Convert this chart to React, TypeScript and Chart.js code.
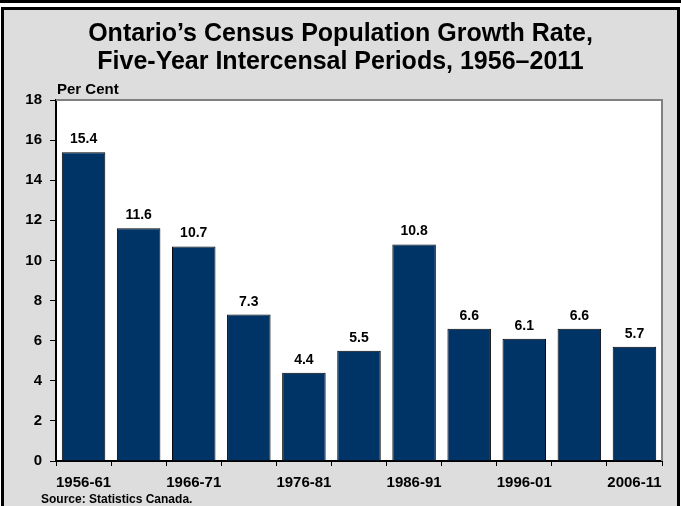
import React, { useEffect, useRef } from "react";
import { Chart, registerables } from "chart.js";

Chart.register(...registerables);

const categories = ["1956-61", "1961-66", "1966-71", "1971-76", "1976-81", "1981-86", "1986-91", "1991-96", "1996-01", "2001-06", "2006-11"];
const growthRate = [15.4, 11.6, 10.7, 7.3, 4.4, 5.5, 10.8, 6.6, 6.1, 6.6, 5.7];
const titleLines = ["Ontario\u2019s Census Population Growth Rate,", "Five-Year Intercensal Periods, 1956\u20132011"];
const yAxisLabel = "Per Cent";
const sourceNote = "Source: Statistics Canada.";
const yMin = 0;
const yMax = 18;
const yStep = 2;

const FONT = '"Liberation Sans", Arial, Helvetica, sans-serif';
const W = 681;
const H = 506;

const decorPlugin = {
  id: "decor",
  beforeDraw(chart: any) {
    const ctx = chart.ctx;
    const ca = chart.chartArea;
    ctx.save();
    ctx.fillStyle = "#ffffff";
    ctx.fillRect(0, 0, W, H);
    ctx.fillStyle = "#000000";
    ctx.fillRect(0, 0, W, 3);
    ctx.fillStyle = "#dddddd";
    ctx.fillRect(3, 9, W - 6, H);
    ctx.strokeStyle = "#000000";
    ctx.lineWidth = 3;
    ctx.strokeRect(2.5, 8.5, W - 5, H + 10);
    ctx.fillStyle = "#ffffff";
    ctx.fillRect(ca.left, ca.top, ca.right - ca.left, ca.bottom - ca.top);
    ctx.restore();
  },
  afterDraw(chart: any) {
    const ctx = chart.ctx;
    const ca = chart.chartArea;
    ctx.save();
    ctx.strokeStyle = "#808080";
    ctx.lineWidth = 2;
    ctx.beginPath();
    ctx.moveTo(ca.left, ca.top);
    ctx.lineTo(ca.right, ca.top);
    ctx.lineTo(ca.right, ca.bottom);
    ctx.stroke();
    ctx.fillStyle = "#000000";
    ctx.textAlign = "center";
    ctx.textBaseline = "middle";
    ctx.font = `bold 25px ${FONT}`;
    ctx.fillText(titleLines[0], W / 2, 34);
    ctx.fillText(titleLines[1], W / 2, 62);
    ctx.textAlign = "left";
    ctx.font = `bold 15px ${FONT}`;
    ctx.fillText(yAxisLabel, 57, 90);
    ctx.font = `bold 12px ${FONT}`;
    ctx.fillText(sourceNote, 41, 500);
    ctx.restore();
  },
  afterDatasetsDraw(chart: any) {
    const ctx = chart.ctx;
    const meta = chart.getDatasetMeta(0);
    ctx.save();
    ctx.fillStyle = "#000000";
    ctx.textAlign = "center";
    ctx.textBaseline = "alphabetic";
    ctx.font = `bold 14px ${FONT}`;
    meta.data.forEach((bar: any, i: number) => {
      ctx.fillText(growthRate[i].toFixed(1), bar.x, bar.y - 9);
    });
    ctx.restore();
  },
};

export default function App() {
  const ref = useRef<HTMLCanvasElement>(null);
  useEffect(() => {
    const chart = new Chart(ref.current as HTMLCanvasElement, {
      type: "bar",
      data: {
        labels: categories,
        datasets: [
          {
            data: growthRate,
            backgroundColor: "#003366",
            borderColor: "#000000",
            borderWidth: 1,
            categoryPercentage: 1,
            barPercentage: 0.79,
          },
        ],
      },
      options: {
        animation: false,
        responsive: false,
        maintainAspectRatio: false,
        events: [],
        layout: { padding: { top: 100, right: 19, left: 0, bottom: 0 } },
        plugins: { legend: { display: false }, tooltip: { enabled: false }, title: { display: false } },
        scales: {
          x: {
            grid: { display: true, drawOnChartArea: false, drawTicks: true, tickLength: 5, color: "#000000", offset: true },
            border: { color: "#000000", width: 2 },
            ticks: {
              autoSkip: false,
              maxRotation: 0,
              minRotation: 0,
              padding: 8,
              color: "#000000",
              font: { family: FONT, size: 15, weight: "bold" },
              callback: (_v: any, i: number) => (i % 2 === 0 ? categories[i] : ""),
            },
            afterFit: (scale: any) => {
              scale.height = 45;
            },
          },
          y: {
            min: yMin,
            max: yMax,
            grid: { display: true, drawOnChartArea: false, drawTicks: true, tickLength: 6, color: "#000000" },
            border: { color: "#000000", width: 2 },
            ticks: {
              stepSize: yStep,
              padding: 8,
              color: "#000000",
              font: { family: FONT, size: 15, weight: "bold" },
            },
            afterFit: (scale: any) => {
              scale.width = 56;
            },
          },
        },
      } as any,
      plugins: [decorPlugin],
    });
    return () => chart.destroy();
  }, []);
  return (
    <div style={{ position: "absolute", left: 0, top: 0, width: W, height: H }}>
      <canvas ref={ref} width={W} height={H} style={{ display: "block", width: W, height: H }} />
    </div>
  );
}
